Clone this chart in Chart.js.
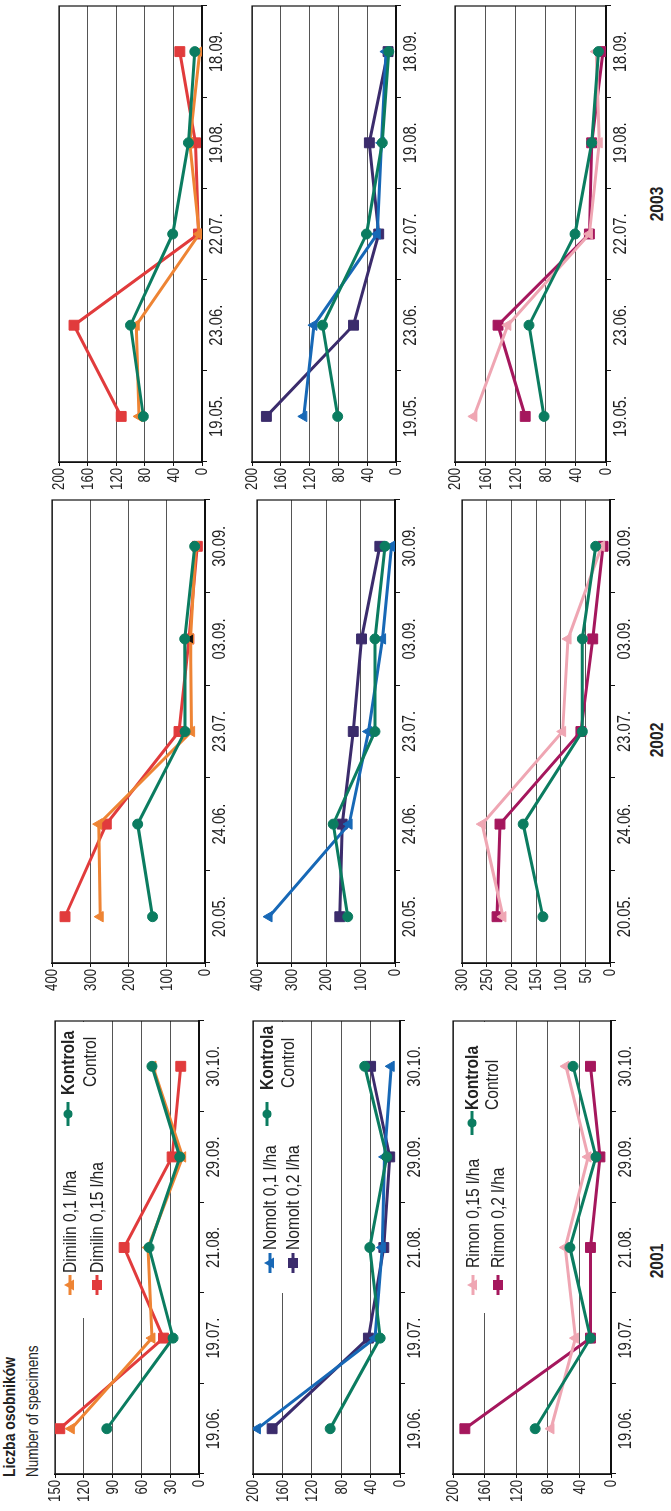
<!DOCTYPE html>
<html>
<head>
<meta charset="utf-8">
<script src="https://cdn.jsdelivr.net/npm/chart.js@4.4.1/dist/chart.umd.min.js"></script>
<style>
html, body { margin:0; padding:0; background:#fff; }
body { width:671px; height:1511px; overflow:hidden; position:relative; }
/* the whole figure is drawn landscape and turned a quarter left */
#land { position:absolute; left:0; top:0; width:1511px; height:671px; transform-origin:0 0; transform:translate(0,1511px) rotate(-90deg); }
.panel { position:absolute; }
.txt { position:absolute; white-space:nowrap; font-family:'Liberation Sans',Arial,sans-serif; color:#222; line-height:1; transform-origin:0 0; transform:scaleX(0.82); }
.year { font-weight:bold; font-size:19px; transform-origin:50% 50%; transform:translateX(-50%) scaleX(0.82); }
</style>
</head>
<body>
<div id="land">
  <div class="txt" style="left:34px;top:1px;font-weight:bold;font-size:17px">Liczba osobników</div>
  <div class="txt" style="left:34px;top:24px;font-size:16.5px">Number of specimens</div>
  <div class="txt year" style="left:250px;top:647px">2001</div>
  <div class="txt year" style="left:771px;top:647px">2002</div>
  <div class="txt year" style="left:1307px;top:647px">2003</div>
</div>
<script>
// dates of the counts
const cats2001 = ['19.06.', '19.07.', '21.08.', '29.09.', '30.10.'];
const cats2002 = ['20.05.', '24.06.', '23.07.', '03.09.', '30.09.'];
const cats2003 = ['19.05.', '23.06.', '22.07.', '19.08.', '18.09.'];

// 2001
const kontrola2001Dim = [96, 27, 52, 20, 49];
const dimilin01_2001 = [133, 49, 53, 17, 48];
const dimilin015_2001 = [145, 37, 78, 28, 19];
const kontrola2001Nom = [95, 27, 41, 18, 48];
const nomolt01_2001 = [194, 34, 24, 21, 12];
const nomolt02_2001 = [174, 43, 22, 14, 40];
const kontrola2001Rim = [96, 26, 52, 19, 48];
const rimon015_2001 = [76, 45, 58, 29, 57];
const rimon02_2001 = [185, 26, 26, 14, 26];

// 2002
const kontrola2002Dim = [137, 176, 52, 53, 27];
const dimilin01_2002 = [274, 278, 35, 38, 24];
const dimilin015_2002 = [366, 258, 68, 42, 20];
const kontrola2002Nom = [137, 179, 58, 58, 29];
const nomolt01_2002 = [365, 133, 77, 36, 10];
const nomolt02_2002 = [160, 153, 121, 97, 44];
const kontrola2002Rim = [136, 176, 56, 56, 29];
const rimon015_2002 = [217, 259, 96, 85, 17];
const rimon02_2002 = [229, 223, 59, 35, 14];

// 2003
const kontrola2003Dim = [82, 100, 41, 19, 10];
const dimilin01_2003 = [88, 92, 4, 17, 3];
const dimilin015_2003 = [113, 179, 5, 9, 31];
const kontrola2003Nom = [81, 102, 41, 19, 10];
const nomolt01_2003 = [128, 114, 26, 20, 14];
const nomolt02_2003 = [180, 59, 24, 37, 11];
const kontrola2003Rim = [82, 102, 41, 19, 10];
const rimon015_2003 = [175, 130, 22, 9, 13];
const rimon02_2003 = [107, 143, 22, 19, 4];

// value axes: [max, step]
const yAxis150 = [150, 30];
const yAxis200 = [200, 40];
const yAxis300 = [300, 50];
const yAxis400 = [400, 100];

const green = '#0b7c60', orange = '#ee8434', red = '#e13b3c';
const blue = '#1768b6', purple = '#3b2c6c', pink = '#efa6b3', magenta = '#a5175d';

const FONT = "'Liberation Sans',Arial,sans-serif";
const NARROW = 0.82;   // the original type is a condensed face

function line(label, data, color, shape) {
    return {
        label: label,
        data: data,
        borderColor: color,
        backgroundColor: color,
        borderWidth: 3,
        pointStyle: shape,
        pointRadius: shape === 'rect' ? 7 : (shape === 'triangle' ? 6 : 5),
        pointBorderWidth: 1,
        pointBorderColor: color,
        tension: 0
    };
}

function narrowText(c, text, x, y, align) {
    c.save();
    c.translate(x, y);
    c.scale(NARROW, 1);
    c.textAlign = align;
    c.fillText(text, 0, 0);
    c.restore();
}

// frame round the plot area
const framePlugin = {
    id: 'frame',
    beforeDatasetsDraw(chart) {
        const a = chart.chartArea, c = chart.ctx;
        c.save();
        c.strokeStyle = '#111';
        c.lineWidth = 1.2;
        c.strokeRect(a.left, a.top, a.right - a.left, a.bottom - a.top);
        c.restore();
    }
};

// tick labels in condensed type, placed by the scales
const tickLabelPlugin = {
    id: 'tickLabels',
    afterDraw(chart) {
        const c = chart.ctx, xs = chart.scales.x, ys = chart.scales.y;
        c.save();
        c.fillStyle = '#222';
        c.font = '18px ' + FONT;
        c.textBaseline = 'top';
        xs.ticks.forEach((t, i) => narrowText(c, chart.data.labels[i], xs.getPixelForTick(i), chart.chartArea.bottom + 6, 'center'));
        c.font = '16px ' + FONT;
        c.textBaseline = 'middle';
        ys.ticks.forEach((t, i) => narrowText(c, String(t.value), chart.chartArea.left - 6, ys.getPixelForTick(i) + 1, 'right'));
        c.restore();
    }
};

function marker(c, shape, x, y, color) {
    c.fillStyle = color;
    c.beginPath();
    if (shape === 'rect') c.rect(x - 5, y - 5, 10, 10);
    else if (shape === 'triangle') { c.moveTo(x, y - 6); c.lineTo(x + 5.5, y + 4); c.lineTo(x - 5.5, y + 4); c.closePath(); }
    else c.arc(x, y, 4.5, 0, Math.PI * 2);
    c.fill();
}

function legendPlugin(lg) {
    return {
        id: 'panelLegend',
        beforeDatasetsDraw(chart) {
            const a = chart.chartArea, c = chart.ctx;
            c.save();
            c.fillStyle = '#fff';
            c.fillRect(a.left + lg.box, a.top + 1, a.right - a.left - lg.box - 1, 50);
            lg.items.forEach(it => {
                const y = a.top + it.y;
                const sx = a.left + it.sx;
                c.strokeStyle = it.color;
                c.lineWidth = 3;
                c.beginPath();
                c.moveTo(sx - it.len / 2, y);
                c.lineTo(sx + it.len / 2, y);
                c.stroke();
                marker(c, it.shape, sx, y, it.color);
                c.fillStyle = '#222';
                c.textBaseline = 'middle';
                c.font = (it.bold ? 'bold ' : '') + '19px ' + FONT;
                narrowText(c, it.text, a.left + it.tx, y + 1, 'left');
                if (it.sub) {
                    c.font = '19px ' + FONT;
                    narrowText(c, it.sub, a.left + it.subx, a.top + it.suby + 1, 'left');
                }
            });
            c.restore();
        }
    };
}

function legendFor(names, colors, shapes, o) {
    return {
        box: o.box,
        items: [
            { text: names[0], color: colors[0], shape: shapes[0], sx: o.sx, tx: o.tx, y: o.y1, len: 20 },
            { text: names[1], color: colors[1], shape: shapes[1], sx: o.sx, tx: o.tx, y: o.y2, len: 20 },
            { text: 'Kontrola', bold: true, color: green, shape: 'circle', sx: o.cx, tx: o.ctx, y: o.cy, len: 24,
              sub: 'Control', subx: o.subx, suby: o.suby }
        ]
    };
}

const panels = [
    // 2001
    { L: 37, R: 490, T: 55, B: 199, labels: cats2001, y: yAxis150,
      datasets: [line('Kontrola', kontrola2001Dim, green, 'circle'), line('Dimilin 0,1 l/ha', dimilin01_2001, orange, 'triangle'), line('Dimilin 0,15 l/ha', dimilin015_2001, red, 'rect')],
      legend: legendFor(['Dimilin 0,1 l/ha', 'Dimilin 0,15 l/ha'], [orange, red], ['triangle', 'rect'],
                        { box: 156, sx: 189, tx: 201, y1: 15, y2: 42, cx: 360, ctx: 379, cy: 13, subx: 387, suby: 35 }) },
    { L: 37, R: 490, T: 253, B: 400, labels: cats2001, y: yAxis200,
      datasets: [line('Kontrola', kontrola2001Nom, green, 'circle'), line('Nomolt 0,1 l/ha', nomolt01_2001, blue, 'triangle'), line('Nomolt 0,2 l/ha', nomolt02_2001, purple, 'rect')],
      legend: legendFor(['Nomolt 0,1 l/ha', 'Nomolt 0,2 l/ha'], [blue, purple], ['triangle', 'rect'],
                        { box: 181, sx: 211, tx: 224, y1: 17, y2: 40, cx: 360, ctx: 384, cy: 14, subx: 386, suby: 35 }) },
    { L: 37, R: 490, T: 453, B: 611, labels: cats2001, y: yAxis200,
      datasets: [line('Kontrola', kontrola2001Rim, green, 'circle'), line('Rimon 0,15 l/ha', rimon015_2001, pink, 'triangle'), line('Rimon 0,2 l/ha', rimon02_2001, magenta, 'rect')],
      legend: legendFor(['Rimon 0,15 l/ha', 'Rimon 0,2 l/ha'], [pink, magenta], ['triangle', 'rect'],
                        { box: 161, sx: 189, tx: 206, y1: 20, y2: 45, cx: 351, ctx: 364, cy: 19, subx: 364, suby: 39 }) },
    // 2002
    { L: 548, R: 1011, T: 52, B: 205, labels: cats2002, y: yAxis400,
      datasets: [line('Kontrola', kontrola2002Dim, green, 'circle'),
                 Object.assign(line('Dimilin 0,1 l/ha', dimilin01_2002, orange, 'triangle'), { pointBackgroundColor: [orange, orange, orange, '#111', orange] }),
                 line('Dimilin 0,15 l/ha', dimilin015_2002, red, 'rect')] },
    { L: 548, R: 1011, T: 257, B: 395, labels: cats2002, y: yAxis400,
      datasets: [line('Kontrola', kontrola2002Nom, green, 'circle'), line('Nomolt 0,1 l/ha', nomolt01_2002, blue, 'triangle'), line('Nomolt 0,2 l/ha', nomolt02_2002, purple, 'rect')] },
    { L: 548, R: 1011, T: 462, B: 610, labels: cats2002, y: yAxis300,
      datasets: [line('Kontrola', kontrola2002Rim, green, 'circle'), line('Rimon 0,15 l/ha', rimon015_2002, pink, 'triangle'), line('Rimon 0,2 l/ha', rimon02_2002, magenta, 'rect')] },
    // 2003
    { L: 1049, R: 1505, T: 59, B: 202, labels: cats2003, y: yAxis200,
      datasets: [line('Kontrola', kontrola2003Dim, green, 'circle'), line('Dimilin 0,1 l/ha', dimilin01_2003, orange, 'triangle'), line('Dimilin 0,15 l/ha', dimilin015_2003, red, 'rect')] },
    { L: 1049, R: 1505, T: 252, B: 396, labels: cats2003, y: yAxis200,
      datasets: [line('Kontrola', kontrola2003Nom, green, 'circle'), line('Nomolt 0,1 l/ha', nomolt01_2003, blue, 'triangle'), line('Nomolt 0,2 l/ha', nomolt02_2003, purple, 'rect')] },
    { L: 1049, R: 1505, T: 455, B: 606, labels: cats2003, y: yAxis200,
      datasets: [line('Kontrola', kontrola2003Rim, green, 'circle'), line('Rimon 0,15 l/ha', rimon015_2003, pink, 'triangle'), line('Rimon 0,2 l/ha', rimon02_2003, magenta, 'rect')] }
];

const land = document.getElementById('land');
const padT = 12, padR = 12, yW = 44, xH = 34;

panels.forEach(p => {
    const w = p.R - p.L + yW + padR;
    const h = p.B - p.T + padT + xH;
    const div = document.createElement('div');
    div.className = 'panel';
    div.style.left = (p.L - yW) + 'px';
    div.style.top = (p.T - padT) + 'px';
    const cv = document.createElement('canvas');
    cv.width = w; cv.height = h;
    cv.style.width = w + 'px'; cv.style.height = h + 'px';
    div.appendChild(cv);
    land.appendChild(div);

    const plugins = [framePlugin, tickLabelPlugin];
    if (p.legend) plugins.push(legendPlugin(p.legend));

    new Chart(cv, {
        type: 'line',
        data: { labels: p.labels, datasets: p.datasets },
        options: {
            responsive: false,
            animation: false,
            devicePixelRatio: 1,
            layout: { padding: { top: padT, right: padR, left: 0, bottom: 0 } },
            plugins: { legend: { display: false }, tooltip: { enabled: false } },
            scales: {
                x: {
                    offset: true,
                    grid: { offset: true, drawOnChartArea: false, drawTicks: true, tickLength: 5, color: '#111' },
                    border: { color: '#111', width: 2 },
                    ticks: { display: false, autoSkip: false, maxRotation: 0, minRotation: 0 },
                    afterFit: s => { s.height = xH; }
                },
                y: {
                    min: 0, max: p.y[0],
                    ticks: { display: false, stepSize: p.y[1] },
                    grid: { color: '#555', lineWidth: 1, tickLength: 4, tickColor: '#111' },
                    border: { color: '#111', width: 1.5 },
                    afterFit: s => { s.width = yW; }
                }
            }
        },
        plugins: plugins
    });
});
</script>
</body>
</html>
